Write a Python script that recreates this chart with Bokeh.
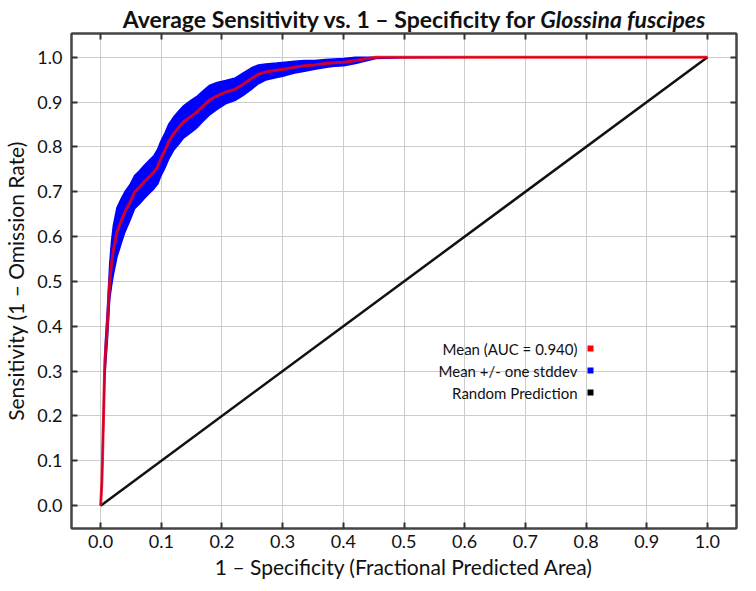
import numpy as np
from bokeh.plotting import figure
from bokeh.models import (Label, LinearAxis, FixedTicker, BoxAnnotation,
                          Range1d, PrintfTickFormatter, Div,
                          CustomLabelingPolicy)
from bokeh.layouts import column
from bokeh.embed import file_html
from bokeh.resources import INLINE

# ---- data ----
fpr = [0, 0.002, 0.003, 0.004, 0.005, 0.0065, 0.008, 0.011, 0.015, 0.018,
       0.021, 0.027, 0.034, 0.040, 0.048, 0.056, 0.064, 0.072, 0.080, 0.088,
       0.094, 0.099, 0.106, 0.112, 0.120, 0.128, 0.136, 0.147, 0.158, 0.168,
       0.179, 0.192, 0.206, 0.222, 0.235, 0.248, 0.260, 0.272, 0.290, 0.304,
       0.320, 0.336, 0.353, 0.370, 0.385, 0.401, 0.420, 0.435, 0.454, 0.500,
       0.566, 0.650, 0.750, 0.850, 1.0]
tpr_mean = [0, 0.05, 0.10, 0.16, 0.21, 0.30, 0.34, 0.40, 0.50, 0.54,
            0.57, 0.61, 0.635, 0.655, 0.675, 0.699, 0.710, 0.722, 0.733, 0.744,
            0.756, 0.773, 0.792, 0.811, 0.829, 0.842, 0.855, 0.866, 0.877, 0.890,
            0.904, 0.914, 0.922, 0.929, 0.940, 0.952, 0.962, 0.967, 0.971, 0.974,
            0.978, 0.981, 0.983, 0.986, 0.988, 0.989, 0.993, 0.996, 1.0, 1.0,
            1.0, 1.0, 1.0, 1.0, 1.0]
tpr_std = [0, 0.01, 0.015, 0.02, 0.025, 0.03, 0.03, 0.035, 0.04, 0.05,
           0.055, 0.055, 0.05, 0.045, 0.04, 0.037, 0.037, 0.037, 0.037, 0.037,
           0.039, 0.039, 0.039, 0.039, 0.037, 0.037, 0.036, 0.036, 0.035, 0.034,
           0.033, 0.030, 0.026, 0.025, 0.025, 0.024, 0.021, 0.018, 0.016, 0.015,
           0.013, 0.012, 0.010, 0.009, 0.008, 0.008, 0.007, 0.005, 0.003, 0.001,
           0.0005, 0, 0, 0, 0]
random_x = [0.0, 1.0]
random_y = [0.0, 1.0]
ticks = [0.0, 0.1, 0.2, 0.3, 0.4, 0.5, 0.6, 0.7, 0.8, 0.9, 1.0]
legend_labels = ["Mean (AUC = 0.940)", "Mean +/- one stddev", "Random Prediction"]
legend_colors = ["#ff0000", "#0000ff", "#000000"]

FONT = "Lato"

m = np.array(tpr_mean)
s = np.array(tpr_std)
upper = np.minimum(m + s, 1.0)
lower = np.maximum(m - s, 0.0)

title = Div(
    text=("Average Sensitivity vs. 1 \u2013 Specificity for "
          "<i>Glossina fuscipes</i>"),
    width=740, height=28, margin=(0, 0, 0, 0),
    styles={"font-family": "Lato", "font-size": "23px", "font-weight": "bold",
            "color": "#111111", "text-align": "center", "line-height": "28px",
            "padding-left": "88px", "padding-top": "5px",
            "box-sizing": "border-box", "overflow": "visible",
            "width": "740px", "white-space": "nowrap"})

p = figure(width=740, height=553, output_backend="svg", toolbar_location=None,
           x_range=Range1d(-0.048, 1.048), y_range=Range1d(-0.051, 1.053),
           min_border_left=62, min_border_right=2, min_border_top=0,
           min_border_bottom=51, margin=(0, 0, 0, 0))
p.background_fill_color = "white"
p.border_fill_color = None
p.outline_line_color = "#444444"
p.outline_line_width = 2

for g in (p.xgrid, p.ygrid):
    g.ticker = FixedTicker(ticks=ticks)
    g.grid_line_color = "#cccccc"
    g.grid_line_width = 1

hide_all = CustomLabelingPolicy(
    code="for (const i of indices) { indices.unset(i) } return indices")

def style_axis(ax, labels=True):
    ax.ticker = FixedTicker(ticks=ticks)
    ax.formatter = PrintfTickFormatter(format="%.1f")
    ax.major_tick_in = 6
    ax.major_tick_out = 0
    ax.minor_tick_line_color = None
    ax.major_tick_line_color = "#333333"
    ax.major_tick_line_width = 2
    ax.axis_line_color = "#444444"
    ax.axis_line_width = 2
    ax.major_label_text_font = FONT
    ax.major_label_text_font_size = "18px"
    ax.major_label_text_color = "#111111"
    ax.axis_label_text_font = FONT
    ax.axis_label_text_font_size = "21px"
    ax.axis_label_text_font_style = "normal"
    ax.axis_label_text_color = "#111111"
    if not labels:
        ax.major_label_policy = hide_all
        ax.major_label_text_font_size = "1px"
        ax.major_label_standoff = 0

style_axis(p.xaxis[0])
style_axis(p.yaxis[0])
p.xaxis[0].axis_label = "1 \u2013 Specificity (Fractional Predicted Area)"
p.yaxis[0].axis_label = "Sensitivity (1 \u2013 Omission Rate)"
p.xaxis[0].major_label_standoff = 6
p.yaxis[0].major_label_standoff = 9
p.xaxis[0].axis_label_standoff = 3
p.yaxis[0].axis_label_standoff = 6

top_ax = LinearAxis()
style_axis(top_ax, labels=False)
p.add_layout(top_ax, "above")
right_ax = LinearAxis()
style_axis(right_ax, labels=False)
p.add_layout(right_ax, "right")

# std band
bx = list(fpr) + list(fpr[::-1])
by = list(upper) + list(lower[::-1])
p.patch(bx, by, fill_color="#0000ff", line_color="#0000ff", line_width=1.5)
# random prediction
p.line(random_x, random_y, line_color="#111111", line_width=2.5)
# mean
p.line(fpr, tpr_mean, line_color="#ff0000", line_width=3, line_alpha=0.8)

# legend (text right-aligned, square marker on the right)
leg_y = [180, 158, 136]
for lab, col, yy in zip(legend_labels, legend_colors, leg_y):
    p.add_layout(Label(x=506, y=yy, x_units="screen", y_units="screen",
                       text=lab, text_font=FONT, text_font_size="15px",
                       text_align="right", text_baseline="middle",
                       text_color="#111111"))
    p.add_layout(BoxAnnotation(left=516, right=522, bottom=yy - 3, top=yy + 3,
                               left_units="screen", right_units="screen",
                               bottom_units="screen", top_units="screen",
                               fill_color=col, fill_alpha=1.0,
                               line_color=None))

layout = column(title, p, spacing=0, margin=(0, 0, 0, 0))
open("out.html", "w").write(file_html(layout, INLINE))
